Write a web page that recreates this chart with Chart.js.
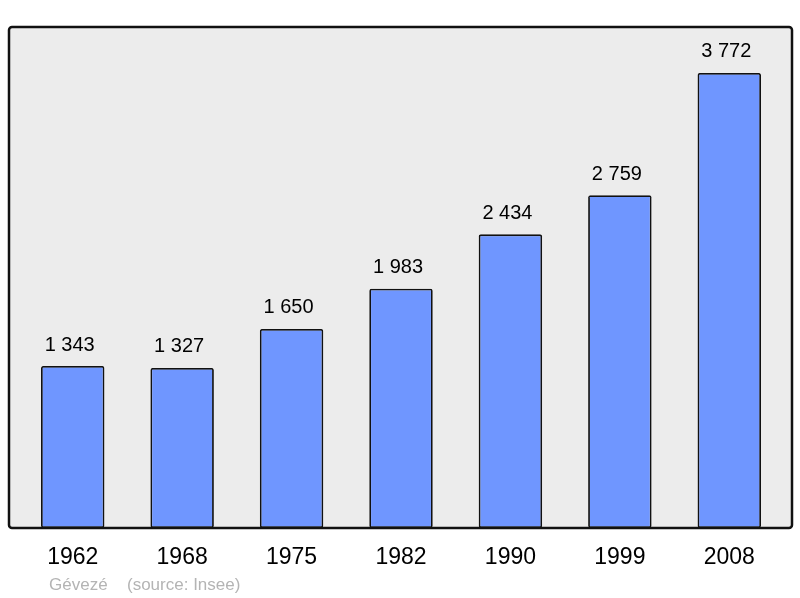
<!DOCTYPE html>
<html>
<head>
<meta charset="utf-8">
<script src="https://cdn.jsdelivr.net/npm/chart.js@4/dist/chart.umd.min.js"></script>
<style>
  html, body { margin: 0; padding: 0; background: #ffffff; }
  #wrap { width: 800px; height: 598px; position: relative; }
</style>
</head>
<body>
<div id="wrap"><canvas id="chart" width="800" height="598"></canvas></div>
<script>
const years = ["1962", "1968", "1975", "1982", "1990", "1999", "2008"];
const population = [1343, 1327, 1650, 1983, 2434, 2759, 3772];
const commune = "Gévezé";
const source = "(source: Insee)";

function fmt(n) {
  return String(n).replace(/\B(?=(\d{3})+(?!\d))/g, " ");
}

// frame, gray background, value labels, year labels and footer
const decor = {
  id: "decor",
  beforeDraw(chart) {
    const ctx = chart.ctx;
    const a = chart.chartArea;
    const x0 = a.left - 9, x1 = a.right + 8, y0 = a.top, y1 = a.bottom;
    ctx.save();
    ctx.beginPath();
    ctx.roundRect(x0, y0, x1 - x0, y1 - y0, 3);
    ctx.fillStyle = "#ececec";
    ctx.fill();
    ctx.restore();
  },
  afterDatasetsDraw(chart) {
    const ctx = chart.ctx;
    const a = chart.chartArea;
    const x0 = a.left - 9, x1 = a.right + 8, y0 = a.top, y1 = a.bottom;
    ctx.save();
    ctx.beginPath();
    ctx.roundRect(x0, y0, x1 - x0, y1 - y0, 3);
    ctx.lineWidth = 2.5;
    ctx.strokeStyle = "#111111";
    ctx.stroke();

    const meta = chart.getDatasetMeta(0);
    ctx.fillStyle = "#000000";
    ctx.textAlign = "center";
    ctx.textBaseline = "middle";
    ctx.font = "20px 'Liberation Sans', Arial, sans-serif";
    meta.data.forEach((bar, i) => {
      ctx.fillText(fmt(population[i]), bar.x - 3, bar.y - 21);
    });
    ctx.font = "23px 'Liberation Sans', Arial, sans-serif";
    meta.data.forEach((bar, i) => {
      ctx.fillText(years[i], bar.x, y1 + 30);
    });
    ctx.font = "17px 'Liberation Sans', Arial, sans-serif";
    ctx.fillStyle = "#b4b4b4";
    ctx.textAlign = "left";
    ctx.fillText(commune, 49, 585);
    ctx.fillText(source, 127, 585);
    ctx.restore();
  }
};

new Chart(document.getElementById("chart"), {
  type: "bar",
  data: {
    labels: years,
    datasets: [{
      data: population,
      backgroundColor: "#6f96ff",
      borderColor: "#111111",
      borderWidth: 1.8,
      borderRadius: 2,
      borderSkipped: false,
      categoryPercentage: 1,
      barPercentage: 0.58
    }]
  },
  options: {
    responsive: false,
    animation: false,
    layout: { padding: { left: 18, right: 16, top: 27, bottom: 70 } },
    plugins: { legend: { display: false }, tooltip: { enabled: false } },
    scales: {
      x: { display: false },
      y: { display: false, min: 0, max: 4153 }
    }
  },
  plugins: [decor]
});
</script>
</body>
</html>
